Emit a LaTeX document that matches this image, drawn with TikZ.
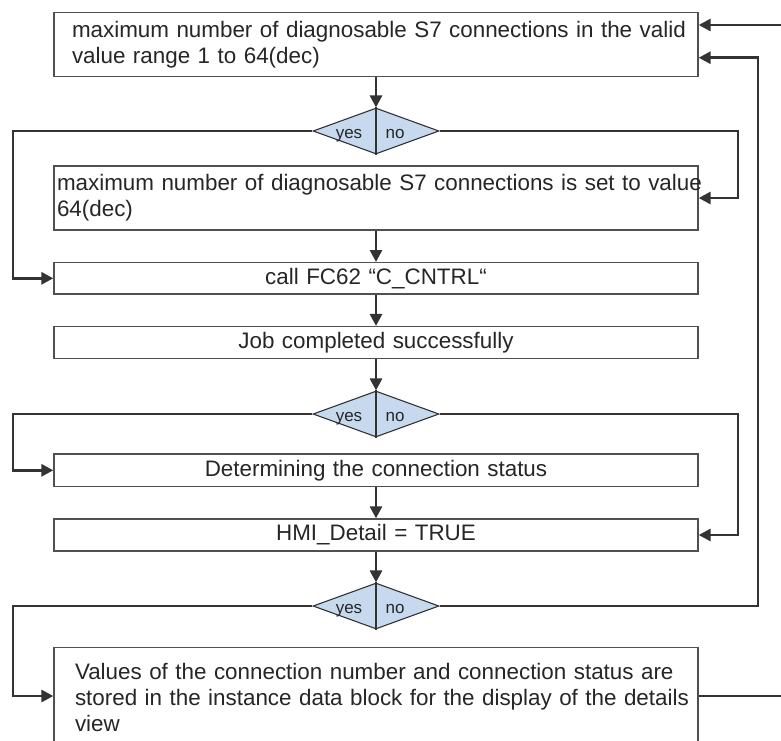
\documentclass[tikz,border=0pt]{standalone}
\usepackage{fontspec}
\setmainfont{Liberation Sans}
\usetikzlibrary{shapes.geometric,arrows.meta}
\definecolor{lc}{HTML}{333333}
\definecolor{bc}{HTML}{505050}
\definecolor{df}{HTML}{C6D9EE}
\begin{document}
\begin{tikzpicture}[x=1pt,y=-1pt,
  box/.style={draw=bc,line width=1.3pt,fill=white,inner ysep=0pt,
    font=\fontsize{22.4}{26}\selectfont,text=black!85},
  dec/.style={diamond,draw=lc,line width=1.1pt,fill=df,minimum width=126pt,
    minimum height=46pt,inner sep=0pt},
  lbl/.style={font=\fontsize{17}{20}\selectfont,anchor=base,inner sep=0pt,text=black!85},
  conn/.style={draw=lc,line width=2.8pt,line join=miter},
  arr/.style={conn,-{Triangle[length=12pt,width=12pt]}}]
\useasboundingbox (0,0) rectangle (781,740);
% boxes
\node[box,inner xsep=18pt,text width=608pt,minimum height=64.4pt,align=left] (b1) at (376,44.5)
  {\mbox{maximum number of diagnosable S7 connections in the valid}\\\mbox{value range 1 to 64(dec)}};
\node[box,inner xsep=3pt,text width=638pt,minimum height=64pt,align=left] (b2) at (376,198)
  {\mbox{maximum number of diagnosable S7 connections is set to value}\\\mbox{64(dec)}};
\node[box,inner xsep=2pt,text width=640pt,minimum height=31.3pt,align=center] (b3) at (376,278.3)
  {call FC62 “C\_CNTRL“};
\node[box,inner xsep=2pt,text width=640pt,minimum height=32pt,align=center] (b4) at (376,342.6)
  {Job completed successfully};
\node[box,inner xsep=2pt,text width=640pt,minimum height=32.7pt,align=center] (b5) at (376,470.3)
  {Determining the connection status};
\node[box,inner xsep=2pt,text width=640pt,minimum height=32pt,align=center] (b6) at (376,535)
  {HMI\_Detail = TRUE};
\node[box,inner xsep=21pt,text width=602pt,minimum height=98.6pt,align=left] (b7) at (376,697)
  {\mbox{Values of the connection number and connection status are}\\\mbox{stored in the instance data block for the display of the details}\\\mbox{view}};
% decisions
\foreach \n/\yy in {d1/131,d2/414,d3/606}{
  \node[dec] (\n) at (376,\yy) {};
  \draw[lc,line width=1.1pt] (\n.north) -- (\n.south);
  \node[lbl] (\n y) at ([xshift=-27pt,yshift=-7pt]\n.center) {yes};
  \node[lbl] (\n n) at ([xshift=19pt,yshift=-7pt]\n.center) {no};
}
% free ends
\coordinate (inTop) at (781,25);
\coordinate (outBot) at (781,696);
% connectors
\draw[arr] (b1.south) -- (d1.north);
\draw[arr] (d1.west) -- (13,131) -- (13,278.3) -- (b3.west);
\draw[arr] (d1.east) -- (738,131) -- (738,198) -- (b2.east);
\draw[arr] (b2.south) -- (b3.north);
\draw[arr] (b3.south) -- (b4.north);
\draw[arr] (b4.south) -- (d2.north);
\draw[arr] (d2.west) -- (13,414) -- (13,470.3) -- (b5.west);
\draw[arr] (d2.east) -- (738,414) -- (738,535) -- (b6.east);
\draw[arr] (b5.south) -- (b6.north);
\draw[arr] (b6.south) -- (d3.north);
\draw[arr] (d3.west) -- (13,606) -- (13,696) -- (b7.west |- 0,696);
\draw[arr] (d3.east) -- (758,606) -- (758,57.7) -- (b1.east |- 0,57.7);
\draw[arr] (inTop) -- (b1.east |- inTop);
\draw[conn] (b7.east |- outBot) -- (outBot);
\end{tikzpicture}
\end{document}
